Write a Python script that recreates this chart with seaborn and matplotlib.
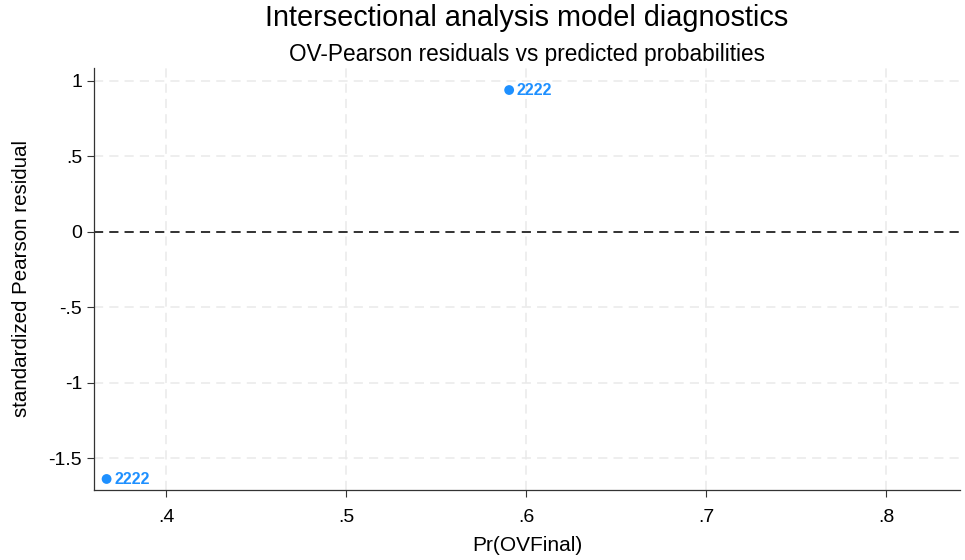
import matplotlib
matplotlib.use("Agg")
import matplotlib.pyplot as plt
import seaborn as sns
import pandas as pd

# data
pred_prob = [0.5906, 0.367]
std_resid = [0.94, -1.636]
point_labels = ["2222", "2222"]
x_ticks = [0.4, 0.5, 0.6, 0.7, 0.8]
x_ticklabels = [".4", ".5", ".6", ".7", ".8"]
y_ticks = [1, 0.5, 0, -0.5, -1, -1.5]
y_ticklabels = ["1", ".5", "0", "-.5", "-1", "-1.5"]

df = pd.DataFrame({"pred": pred_prob, "resid": std_resid, "lab": point_labels})

sns.set_style("white")
plt.rcParams["font.family"] = ["Liberation Sans", "DejaVu Sans"]
plt.rcParams["text.color"] = "black"
plt.rcParams["axes.labelcolor"] = "black"
plt.rcParams["xtick.color"] = "black"
plt.rcParams["ytick.color"] = "black"

blue = "#1E90FF"
fig = plt.figure(figsize=(9.65, 5.6), dpi=100)
ax = fig.add_axes([0.0974, 0.125, 0.8974, 0.7536])

sns.scatterplot(data=df, x="pred", y="resid", color=blue, s=50,
                edgecolor="none", ax=ax, zorder=3)
for _, r in df.iterrows():
    ax.annotate(r["lab"], (r["pred"], r["resid"]), xytext=(5.5, -0.5),
                textcoords="offset points", ha="left", va="center",
                color=blue, fontsize=11.5, fontweight="bold", zorder=3)

ax.axhline(0, color="black", linestyle=(0, (6, 4)), linewidth=1.1, zorder=2)

ax.set_xlim(0.36, 0.841)
ax.set_ylim(-1.709, 1.086)
ax.set_xticks(x_ticks)
ax.set_xticklabels(x_ticklabels)
ax.set_yticks(y_ticks)
ax.set_yticklabels(y_ticklabels)
ax.tick_params(axis="both", labelsize=14, length=5, width=0.8,
               color="#333333", direction="out", left=True, bottom=True)
ax.tick_params(axis="x", pad=9)
ax.grid(True, color="#EAEAEA", linestyle=(0, (6, 4)), linewidth=1.1)
for s in ["top", "right"]:
    ax.spines[s].set_visible(False)
for s in ["left", "bottom"]:
    ax.spines[s].set_color("#333333")
    ax.spines[s].set_linewidth(0.9)

ax.set_xlabel("Pr(OVFinal)", fontsize=15, labelpad=7)
ax.set_ylabel("standardized Pearson residual", fontsize=14.8, labelpad=13)

cx = 0.0974 + 0.8974 / 2
fig.text(cx, 0.967, "Intersectional analysis model diagnostics",
         ha="center", va="center", fontsize=20.8)
fig.text(cx, 0.903, "OV-Pearson residuals vs predicted probabilities",
         ha="center", va="center", fontsize=16.3)

fig.savefig("out.png", dpi=100)
